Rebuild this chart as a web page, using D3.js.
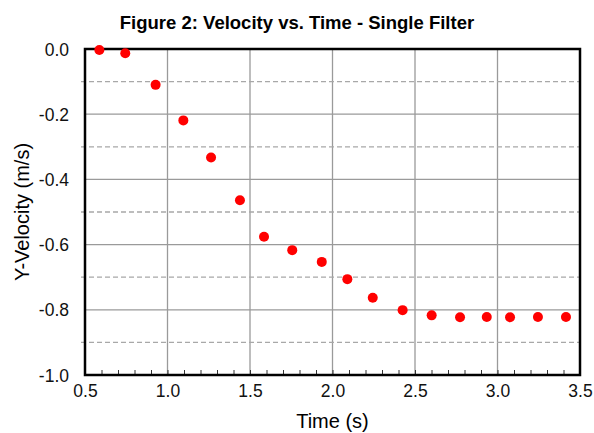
<!DOCTYPE html>
<html>
<head>
<meta charset="utf-8">
<script src="https://cdn.jsdelivr.net/npm/d3@7"></script>
<style>
  body { margin: 0; background: #fff; }
  text { font-family: "Liberation Sans", Arial, sans-serif; }
</style>
</head>
<body>
<div id="chart"></div>
<script>
// data
var times = [0.587, 0.744, 0.928, 1.096, 1.264, 1.439, 1.585, 1.756, 1.935, 2.090,
             2.244, 2.425, 2.601, 2.773, 2.935, 3.076, 3.245, 3.415];
var velocities = [-0.003, -0.013, -0.110, -0.219, -0.333, -0.464, -0.576, -0.617, -0.653, -0.706,
                  -0.763, -0.801, -0.817, -0.823, -0.822, -0.823, -0.822, -0.822];
var xTicks = [0.5, 1.0, 1.5, 2.0, 2.5, 3.0, 3.5];
var yTicks = [0.0, -0.2, -0.4, -0.6, -0.8, -1.0];
var yDashed = [-0.1, -0.3, -0.5, -0.7, -0.9];

var svgWidth = 594;
var svgHeight = 433;
var margin = { top: 49, right: 14, bottom: 58, left: 85 };
var width = svgWidth - margin.left - margin.right;
var height = svgHeight - margin.top - margin.bottom;

// plain hyphen for negatives, like the original
var fmt = d => d3.format(".1f")(d).replace("\u2212", "-");

var svg = d3.select("#chart").append("svg")
  .attr("width", svgWidth)
  .attr("height", svgHeight);

var chartGroup = svg.append("g")
  .attr("transform", `translate(${margin.left}, ${margin.top})`);

var x = d3.scaleLinear().domain([0.5, 3.5]).range([0, width]);
var y = d3.scaleLinear().domain([-1.0, 0.0]).range([height, 0]);

// gridlines
chartGroup.selectAll(".vgrid")
  .data(xTicks.slice(1, -1))
  .enter().append("line")
  .attr("x1", d => x(d)).attr("x2", d => x(d))
  .attr("y1", 0).attr("y2", height)
  .attr("stroke", "#9a9a9a").attr("stroke-width", 1.3);

chartGroup.selectAll(".hgrid")
  .data(yTicks.slice(1, -1))
  .enter().append("line")
  .attr("x1", 0).attr("x2", width)
  .attr("y1", d => y(d)).attr("y2", d => y(d))
  .attr("stroke", "#9a9a9a").attr("stroke-width", 1.3);

chartGroup.selectAll(".hdash")
  .data(yDashed)
  .enter().append("line")
  .attr("x1", -4).attr("x2", width)
  .attr("y1", d => y(d)).attr("y2", d => y(d))
  .attr("stroke", "#a8a8a8").attr("stroke-width", 1.3)
  .attr("stroke-dasharray", "5,3");

// x axis: labels + small inward minor ticks
var xAxis = d3.axisBottom(x)
  .tickValues(d3.range(5, 36).map(d => d / 10))
  .tickSize(-5)
  .tickFormat(d => xTicks.some(t => Math.abs(t - d) < 1e-6) ? fmt(d) : "");
var xg = chartGroup.append("g")
  .attr("transform", `translate(0, ${height})`)
  .call(xAxis);
xg.select(".domain").remove();
xg.selectAll("line").attr("stroke", "#333").attr("stroke-width", 1);
xg.selectAll("text").attr("font-size", 17.5).attr("fill", "#111")
  .attr("y", 22).attr("dy", 0);

// y axis: labels
var yAxis = d3.axisLeft(y)
  .tickValues(yTicks)
  .tickSize(0)
  .tickPadding(16)
  .tickFormat(fmt);
var yg = chartGroup.append("g").call(yAxis);
yg.select(".domain").remove();
yg.selectAll("text").attr("font-size", 17.5).attr("fill", "#111").attr("dy", "0.35em");

// frame
chartGroup.append("rect")
  .attr("x", 0).attr("y", 0)
  .attr("width", width).attr("height", height)
  .attr("fill", "none")
  .attr("stroke", "#000")
  .attr("stroke-width", 2.5);

// points
chartGroup.selectAll("circle")
  .data(times)
  .enter().append("circle")
  .attr("cx", d => x(d))
  .attr("cy", (d, i) => y(velocities[i]))
  .attr("r", 5)
  .attr("fill", "#ff0000");

// title and labels
svg.append("text")
  .attr("x", svgWidth / 2).attr("y", 29)
  .attr("text-anchor", "middle")
  .attr("font-size", 18.5).attr("font-weight", "bold")
  .text("Figure 2: Velocity vs. Time - Single Filter");

svg.append("text")
  .attr("x", margin.left + width / 2).attr("y", 428)
  .attr("text-anchor", "middle")
  .attr("font-size", 20)
  .text("Time (s)");

svg.append("text")
  .attr("transform", `translate(29, ${margin.top + height / 2}) rotate(-90)`)
  .attr("text-anchor", "middle")
  .attr("font-size", 20)
  .text("Y-Velocity (m/s)");
</script>
</body>
</html>
